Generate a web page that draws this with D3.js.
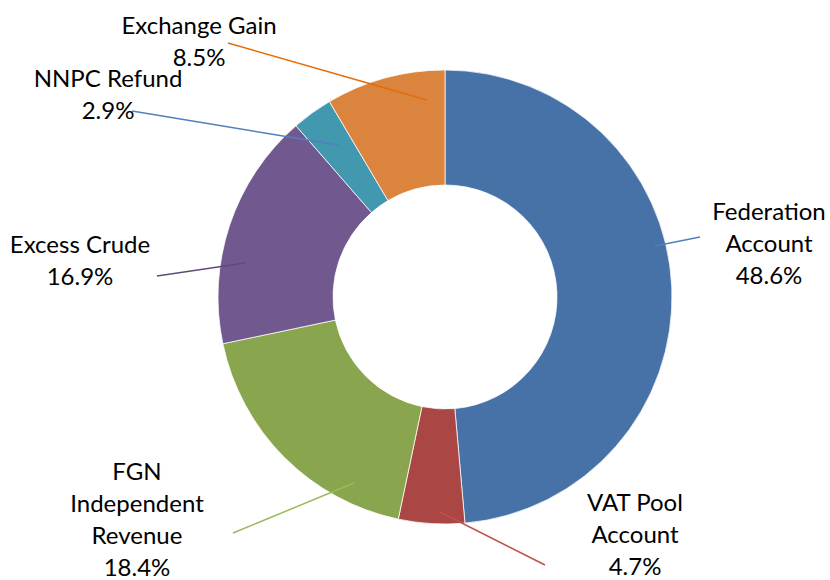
<!DOCTYPE html>
<html>
<head>
<meta charset="utf-8">
<script src="https://cdn.jsdelivr.net/npm/d3@7"></script>
<style>
  body { margin: 0; background: #fff; }
  text { font-family: Lato, "Open Sans", sans-serif; fill: #000; }
</style>
</head>
<body>
<div class="chart"></div>
<script>
var categories = ["Federation Account", "VAT Pool Account", "FGN Independent Revenue", "Excess Crude", "NNPC Refund", "Exchange Gain"];
var shares = [48.6, 4.7, 18.4, 16.9, 2.9, 8.5];
var sliceColors = ["#4672A8", "#AA4644", "#89A64E", "#71588F", "#4298AF", "#DB843D"];
var lineColors = ["#4F81BD", "#C0504D", "#9BBB59", "#604A7B", "#4F81BD", "#E46C0A"];
// label text lines, as Excel wrapped them
var labelLines = [
    ["Federation", "Account"],
    ["VAT Pool", "Account"],
    ["FGN", "Independent", "Revenue"],
    ["Excess Crude"],
    ["NNPC Refund"],
    ["Exchange Gain"]
];

// label placement relative to the centre: text anchor, leader line outer end, leader line inner end
var labelLayout = [
    {tx: 324, ty: -85, ox: 255, oy: -60, ix: 210, iy: -51},
    {tx: 190, ty: 206, ox: 100, oy: 268, ix: -5, iy: 215},
    {tx: -308, ty: 175, ox: -212, oy: 236, ix: -91, iy: 186},
    {tx: -365, ty: -52, ox: -288, oy: -21, ix: -200, iy: -34},
    {tx: -337, ty: -218, ox: -313, oy: -186, ix: -107, iy: -152},
    {tx: -246, ty: -271, ox: -217, oy: -254, ix: -18, iy: -197}
];

var width = 830, height = 580;
var cx = 445, cy = 297;
var outerR = 227, innerR = 112;
var lineGap = 32;

var svg = d3.select(".chart").append("svg")
    .attr("width", width)
    .attr("height", height);

var g = svg.append("g")
    .attr("transform", "translate(" + cx + "," + cy + ")");

var pie = d3.pie().sort(null).value(function (d) { return d; });
var arc = d3.arc().innerRadius(innerR).outerRadius(outerR);

var arcs = pie(shares);

g.selectAll(".slice")
    .data(arcs)
    .enter().append("path")
    .attr("class", "slice")
    .attr("d", arc)
    .style("fill", function (d, i) { return sliceColors[i]; })
    .style("stroke", "#fff")
    .style("stroke-width", 0.75);

g.selectAll(".leader")
    .data(labelLayout)
    .enter().append("line")
    .attr("class", "leader")
    .attr("x1", function (d) { return d.ox; })
    .attr("y1", function (d) { return d.oy; })
    .attr("x2", function (d) { return d.ix; })
    .attr("y2", function (d) { return d.iy; })
    .style("stroke", function (d, i) { return lineColors[i]; })
    .style("stroke-width", 1.5);

var labels = g.selectAll(".label")
    .data(categories)
    .enter().append("text")
    .attr("class", "label")
    .attr("x", function (d, i) { return labelLayout[i].tx; })
    .attr("y", function (d, i) { return labelLayout[i].ty; })
    .style("text-anchor", "middle")
    .style("font-size", "24px");

labels.each(function (d, i) {
    var t = d3.select(this);
    var lines = labelLines[i].concat([shares[i].toFixed(1) + "%"]);
    lines.forEach(function (s, k) {
        t.append("tspan")
            .attr("x", labelLayout[i].tx)
            .attr("y", labelLayout[i].ty + k * lineGap)
            .attr("dy", ".35em")
            .text(s);
    });
});
</script>
</body>
</html>
